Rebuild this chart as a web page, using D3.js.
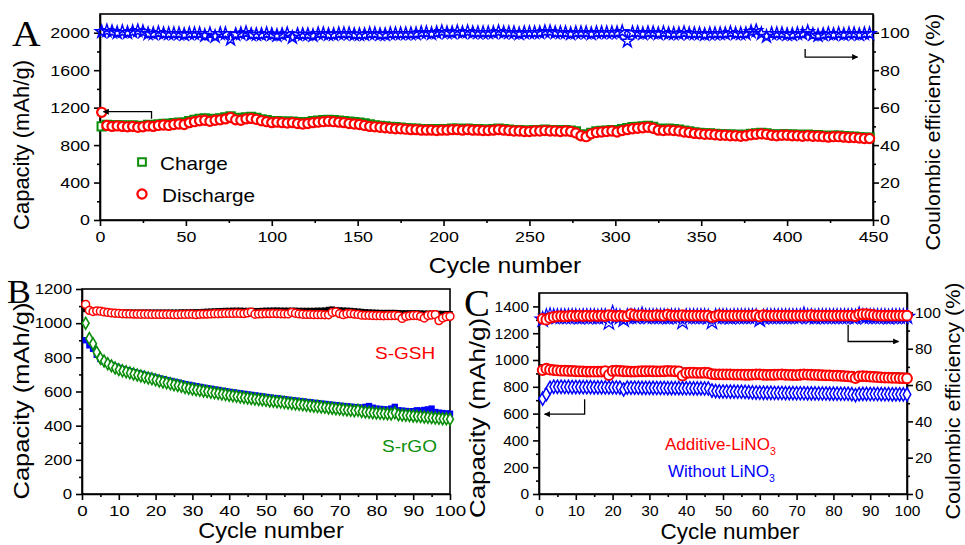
<!DOCTYPE html>
<html lang="en">
<head>
<meta charset="UTF-8" />
<title>Cycling performance</title>
<script src="https://d3js.org/d3.v7.min.js"></script>
<style>
  body { margin: 0; background: #fff; }
  svg text { font-family: "Liberation Sans", Arial, sans-serif; }
  .axis path, .axis line { stroke: #000; stroke-width: 1.6; }
  .frame { fill: none; stroke: #000; stroke-width: 1.6; }
</style>
</head>
<body>
<svg id="chart" width="965" height="545"></svg>
<script>
// ----- Panel A: 450 cycles, a marker every 3rd cycle -----
const aCycles = d3.range(1, 449, 3);
const aDischarge = [
  1150,1010,1000,1005,1000,995,1000,990,995,1005,
  1000,1010,1015,1010,1020,1025,1020,1040,1050,1060,
  1065,1055,1065,1070,1080,1095,1070,1065,1080,1085,
  1075,1060,1050,1040,1045,1040,1035,1040,1030,1025,
  1030,1040,1045,1050,1055,1050,1045,1040,1030,1025,
  1020,1010,1000,995,990,985,980,975,975,970,
  965,965,960,960,960,955,960,960,965,965,
  960,965,960,960,955,955,960,965,960,955,
  950,950,945,945,950,950,955,950,950,945,
  950,945,930,900,890,920,935,940,945,950,
  940,955,965,975,980,985,990,980,960,955,
  960,955,950,940,935,925,920,915,915,910,
  905,905,900,900,895,900,910,915,920,915,
  905,900,905,905,900,900,895,900,895,895,
  890,885,890,890,885,880,880,875,870,870];
const aCharge = [
  1000,1015,1010,1010,1010,1005,1010,1000,1005,1015,
  1010,1020,1025,1025,1035,1040,1040,1055,1070,1080,
  1085,1075,1080,1085,1095,1105,1090,1085,1095,1100,
  1090,1075,1065,1055,1055,1050,1050,1050,1045,1040,
  1045,1055,1060,1065,1070,1065,1060,1055,1050,1045,
  1040,1030,1020,1010,1005,1000,995,990,985,980,
  975,975,970,970,970,965,970,970,975,975,
  970,975,970,970,965,965,970,975,970,965,
  960,960,955,955,960,960,965,960,960,955,
  960,955,945,915,905,930,945,950,955,960,
  955,970,980,990,995,1000,1005,995,975,970,
  975,970,965,955,945,935,930,925,925,920,
  915,915,910,910,905,910,920,925,930,925,
  915,910,915,915,910,910,905,910,905,905,
  900,895,900,900,895,890,890,885,880,880];
const aEfficiency = [
  100.5,101,100.5,100,100.5,100,100.5,101,100.5,99.5,
  99.5,100,99.5,99.5,99.5,99.5,99,99.5,99.5,99.5,
  98.5,99.5,98,99.5,99.5,96.5,99,99.5,100,99,
  99,99,99.5,99,98.5,99,99.5,97.5,99,99,
  99,98.5,99.5,99.5,99,99,99.5,99.5,99.5,99,
  99,99,99.5,99.5,99,99,99.5,99.5,99.5,99.5,
  99.5,99.5,100,100,99.5,100,100.5,100,100,100.5,
  100,100.5,100,100,100,100,100,100.5,100,100,
  100,99.5,100,100,100,100,100.5,100.5,100,100,
  100,99.5,100,100,100,99.5,100,100,100,100,
  100,100.5,95.5,100,100,99.5,100,100,99.5,100,
  99.5,99.5,99.5,100,99.5,99.5,99.5,99,99.5,99.5,
  99.5,99.5,100,99.5,99.5,99.5,100.5,101,99.5,98,
  99.5,99.5,99.5,99,99,99.5,99.5,100.5,99,98.5,
  99,99.5,99,99.5,99,99.5,99.5,99,99.5,99.5];

// ----- Panel B: S-GSH vs S-rGO, 100 cycles -----
const bCycles = d3.range(1, 101);
const bGshDischarge = [
  1110,1075,1068,1072,1070,1066,1063,1060,1058,1057,
  1055,1054,1054,1053,1053,1052,1052,1052,1051,1051,
  1051,1051,1051,1051,1050,1050,1051,1051,1052,1052,
  1050,1052,1053,1053,1054,1055,1055,1056,1057,1057,
  1057,1058,1057,1056,1060,1064,1052,1054,1055,1056,
  1056,1057,1056,1055,1054,1054,1063,1058,1054,1052,
  1051,1051,1050,1050,1050,1049,1049,1063,1066,1056,
  1050,1055,1056,1053,1051,1047,1046,1046,1045,1044,
  1044,1043,1044,1044,1045,1043,1028,1040,1043,1045,
  1045,1040,1030,1045,1048,1050,1015,1030,1038,1040];
const bGshCharge = [
  1080,1072,1070,1070,1069,1068,1067,1066,1066,1065,
  1065,1065,1064,1064,1064,1064,1064,1064,1064,1064,
  1064,1064,1064,1064,1064,1064,1065,1065,1065,1066,
  1066,1067,1068,1069,1070,1071,1072,1073,1074,1074,
  1075,1075,1075,1074,1074,1074,1073,1073,1074,1075,
  1075,1076,1076,1075,1075,1075,1075,1075,1074,1074,
  1074,1074,1074,1075,1075,1076,1080,1082,1079,1077,
  1076,1075,1074,1072,1070,1068,1066,1065,1064,1063,
  1062,1062,1062,1062,1062,1061,1060,1060,1060,1060,
  1060,1059,1058,1058,1058,1057,1057,1056,1056,1055];
const bRgoDischarge = [
  1000,910,880,830,795,778,762,750,738,728,
  721,715,709,703,697,691,685,679,674,668,
  662,656,651,645,640,635,630,624,619,614,
  610,607,603,600,596,592,589,585,582,578,
  575,572,568,565,562,559,556,553,551,548,
  545,543,540,538,535,532,530,527,525,522,
  519,517,514,512,509,507,504,502,499,497,
  494,492,490,487,490,483,480,478,476,474,
  472,471,469,468,475,464,462,461,459,457,
  455,453,451,449,447,445,443,441,440,438];
const bRgoCharge = [
  900,870,850,815,790,776,765,755,746,738,
  731,725,719,713,708,703,697,692,687,682,
  677,672,667,662,657,653,648,643,639,635,
  631,627,623,619,616,612,609,605,602,598,
  595,592,589,586,583,580,577,574,571,568,
  565,562,560,557,555,552,549,547,544,542,
  539,537,534,532,529,527,524,522,520,517,
  515,513,511,509,507,505,510,515,505,500,
  498,496,494,500,510,490,488,486,484,485,
  490,488,492,495,500,480,476,474,472,470];

// ----- Panel C: with / without LiNO3, 100 cycles -----
const cCycles = d3.range(1, 101);
const cAddEfficiency = [
  96.5,96,97,97.5,97.8,98,97.8,98,98.2,98,
  98.3,98,98.2,98,98.2,98,98.3,98,98.5,98.2,
  98,98.2,98,98,99,98.5,98.2,98.5,98.3,98.2,
  98.2,98.5,98.3,98.2,98.8,98.3,98.2,98.2,98.5,98.2,
  98.3,98.2,98.2,98.3,98.2,98.2,97.5,98,98.5,98.3,
  98.2,98.3,98.2,98.2,98.3,98.2,98.2,98.3,98.5,97.8,
  98.5,98.3,98.2,98.3,98.2,98.3,98.2,98.2,98.3,98.2,
  98.3,98.2,98.2,98.5,98.2,98.3,98.2,98.2,98.3,98.2,
  98.2,98.3,98.2,98.2,98.3,98,98.8,99,99,98.8,
  98.5,98.3,98.3,98.2,98.3,98.2,98.2,98.3,98.2,98.2];
const cWoEfficiency = [
  96,97.6,98.1,97.6,97.6,97.6,97.6,97.6,97.6,97.6,
  97.4,97.6,97.6,97.6,97.6,97.4,97.6,97.6,94.5,99.5,
  97.6,97.4,96,97.6,97.6,97.6,97.6,98.6,97.6,97.6,
  97.6,97.6,97.6,97.6,97.4,97.6,97.6,97.6,94.8,97.6,
  97.6,97.6,97.6,97.6,97.6,97.4,94.8,97.6,97.6,97.6,
  97.6,97.4,97.6,97.6,97.6,97.6,97.6,97.6,97.6,96,
  97.4,97.6,97.6,97.6,97.6,97.6,97.6,97.6,97.6,97.6,
  97.6,98.6,97.6,97.6,97.4,97.6,97.6,97.6,97.6,97.6,
  97.6,97.6,97.6,97.6,97.6,97.4,98.6,97.6,97.6,97.6,
  97.6,97.6,97.6,97.6,97.4,97.6,97.6,97.6,97.6,97.6];
const cAddDischarge = [
  925,935,928,925,922,920,920,918,918,916,
  915,915,914,914,913,913,914,916,888,918,
  920,918,916,915,914,914,915,916,916,917,
  916,915,915,916,918,917,916,915,884,903,
  905,905,904,904,905,903,895,893,893,892,
  892,892,891,891,891,890,890,891,892,893,
  890,889,889,890,891,892,890,889,888,887,
  890,892,891,890,889,888,887,886,885,884,
  883,882,880,878,875,865,878,880,878,876,
  874,872,870,869,868,867,866,865,864,863];
const cAddCharge = [
  945,945,942,940,938,936,935,934,933,932,
  932,931,931,930,930,930,930,930,925,932,
  933,932,931,930,930,930,930,931,931,931,
  931,930,930,930,931,931,930,930,920,918,
  918,918,917,917,917,916,910,908,907,906,
  906,906,905,905,905,904,904,905,906,906,
  905,904,904,904,905,905,904,903,902,902,
  903,904,904,903,902,901,900,900,899,898,
  897,896,895,894,892,885,892,893,892,890,
  889,888,887,886,885,884,883,882,881,880];
const cWoDischarge = [
  712,745,792,800,800,800,799,799,798,798,
  798,797,797,797,796,796,796,795,795,795,
  795,794,780,794,793,793,793,792,792,792,
  792,791,791,791,790,790,790,790,789,789,
  789,788,788,788,787,787,772,768,766,765,
  765,764,764,763,763,762,760,758,757,756,
  755,755,755,754,754,754,753,753,753,752,
  752,752,751,751,751,750,750,750,749,749,
  749,748,748,748,745,738,745,747,747,746,
  746,746,745,745,745,744,744,744,743,743];
const cWoCharge = [
  700,780,815,822,822,822,821,821,820,820,
  820,819,819,819,818,818,818,817,817,817,
  817,816,810,816,815,815,815,814,814,814,
  814,813,813,813,812,812,812,812,811,811,
  811,810,810,810,809,809,800,790,788,787,
  787,786,786,785,785,784,782,780,779,778,
  777,777,777,776,776,776,775,775,775,774,
  774,774,773,773,773,772,772,772,771,771,
  771,770,770,770,767,760,767,769,769,768,
  768,768,767,767,767,766,766,766,765,765];

const RED = '#ff0000', BLUE = '#0000ff', GREEN = '#0a8f0a';

const svg = d3.select('#chart');

// arrow head
svg.append('defs').append('marker')
  .attr('id', 'head').attr('viewBox', '0 0 10 10')
  .attr('refX', 9).attr('refY', 5)
  .attr('markerWidth', 8).attr('markerHeight', 6)
  .attr('markerUnits', 'userSpaceOnUse')
  .attr('orient', 'auto')
  .append('path').attr('d', 'M0,0 L10,5 L0,10 Z').attr('fill', '#000');

// stretch text horizontally (the figure is a bit wider than tall)
function stretch(sel, k) {
  sel.each(function () {
    const w = this.getComputedTextLength();
    d3.select(this).attr('textLength', w * k).attr('lengthAdjust', 'spacingAndGlyphs');
  });
}

function axis(make, scale, pos, major, minor, pad, fs, k) {
  const g = svg.append('g').attr('class', 'axis').attr('transform', pos)
    .call(make(scale).tickValues(major).tickFormat(d3.format('d'))
      .tickSize(6).tickSizeOuter(0).tickPadding(pad));
  g.attr('font-size', fs).attr('font-family', '"Liberation Sans", Arial, sans-serif');
  stretch(g.selectAll('text'), k);
  svg.append('g').attr('class', 'axis').attr('transform', pos)
    .call(make(scale).tickValues(minor).tickSize(3).tickFormat(''))
    .select('.domain').remove();
}

function marks(x, y, cycles, vals, type, size, o) {
  svg.append('g').selectAll('path').data(vals).join('path')
    .attr('transform', (d, i) => `translate(${x(cycles[i])},${y(d)})`)
    .attr('d', d3.symbol().type(type).size(size))
    .attr('fill', o.fill || 'none')
    .attr('stroke', o.stroke || 'none')
    .attr('stroke-width', o.sw || 1);
}

function trace(x, y, cycles, vals, color, sw) {
  svg.append('path').datum(vals)
    .attr('d', d3.line().x((d, i) => x(cycles[i])).y(d => y(d)))
    .attr('fill', 'none').attr('stroke', color).attr('stroke-width', sw);
}

function arrow(x, y, pts) {
  svg.append('path')
    .attr('d', d3.line().x(p => x(p[0])).y(p => y(p[1]))(pts))
    .attr('fill', 'none').attr('stroke', '#000').attr('stroke-width', 1.3)
    .attr('marker-end', 'url(#head)');
}

function label(txt, x, y, fs, k, opts = {}) {
  const t = svg.append('text')
    .attr('transform', `translate(${x},${y}) scale(${k},1)` + (opts.rot ? ' rotate(-90)' : ''))
    .attr('font-size', fs)
    .attr('text-anchor', opts.anchor || 'start')
    .style('fill', opts.color || '#000')
    .text(txt);
  if (opts.len) t.attr('textLength', opts.len).attr('lengthAdjust', 'spacingAndGlyphs');
  if (opts.serif) t.style('font-family', '"Liberation Serif", "Times New Roman", serif');
  return t;
}

function subLabel(main, sub, x, y, fs, color) {
  const t = svg.append('text').attr('x', x).attr('y', y)
    .attr('font-size', fs).style('fill', color);
  t.append('tspan').text(main);
  t.append('tspan').attr('font-size', fs * 0.62).attr('dy', 5).text(sub);
}

// ================= Panel A =================
const xA = d3.scaleLinear().domain([0, 450]).range([100, 873]);
const yA = d3.scaleLinear().domain([0, 2200]).range([220, 14]);
const yAr = d3.scaleLinear().domain([0, 110]).range([220, 14]);

svg.append('rect').attr('class', 'frame').attr('x', 100).attr('y', 14).attr('width', 773).attr('height', 206);
axis(d3.axisBottom, xA, 'translate(0,220)', d3.range(0, 451, 50), d3.range(25, 450, 50), 5, 15.5, 1.15);
axis(d3.axisLeft, yA, 'translate(100,0)', d3.range(0, 2001, 400), d3.range(200, 2001, 400), 4, 15.5, 1.15);
axis(d3.axisRight, yAr, 'translate(873,0)', d3.range(0, 101, 20), d3.range(10, 101, 20), 1, 15.5, 1.15);

marks(xA, yA, aCycles, aCharge, d3.symbolSquare, 70, { fill: '#fff', stroke: GREEN, sw: 2 });
marks(xA, yA, aCycles, aDischarge, d3.symbolCircle, 66, { fill: '#fff', stroke: RED, sw: 2.2 });
marks(xA, yAr, aCycles, aEfficiency, d3.symbolStar, 48, { stroke: BLUE, sw: 1.5 });

arrow(xA, yA, [[30, 1080], [30, 1157], [2, 1157]]);
arrow(xA, yAr, [[410.5, 91.3], [410.5, 87], [441, 87]]);

// legend
svg.append('path').attr('transform', 'translate(142,162)')
  .attr('d', d3.symbol().type(d3.symbolSquare).size(60))
  .attr('fill', '#fff').attr('stroke', GREEN).attr('stroke-width', 2);
svg.append('path').attr('transform', 'translate(142,194)')
  .attr('d', d3.symbol().type(d3.symbolCircle).size(66))
  .attr('fill', '#fff').attr('stroke', RED).attr('stroke-width', 2.2);
label('Charge', 160, 170, 18, 1.15);
label('Discharge', 162, 202, 18, 1.15);

label('A', 12, 46, 36, 1.1, { serif: true });
label('Cycle number', 505, 273, 21.5, 1.15, { anchor: 'middle' });
label('Capacity (mAh/g)', 29, 145, 20, 1.1, { rot: true, anchor: 'middle', len: 170 });
label('Coulombic efficiency (%)', 940, 132, 20, 1.05, { rot: true, anchor: 'middle', len: 237 });

// ================= Panel B =================
const xB = d3.scaleLinear().domain([0, 100]).range([82, 450]);
const yB = d3.scaleLinear().domain([0, 1200]).range([494, 289]);

svg.append('rect').attr('class', 'frame').attr('x', 82).attr('y', 289).attr('width', 368).attr('height', 205);
axis(d3.axisBottom, xB, 'translate(0,494)', d3.range(0, 101, 10), d3.range(5, 100, 10), 5, 15, 1.25);
axis(d3.axisLeft, yB, 'translate(82,0)', d3.range(0, 1201, 200), d3.range(100, 1200, 200), 4, 15, 1.12);

marks(xB, yB, bCycles, bGshCharge, d3.symbolSquare, 30, { fill: '#000' });
marks(xB, yB, bCycles, bGshDischarge, d3.symbolCircle, 48, { fill: '#fff', stroke: RED, sw: 1.5 });
marks(xB, yB, bCycles, bRgoCharge, d3.symbolSquare, 40, { fill: BLUE });
marks(xB, yB, bCycles, bRgoDischarge, d3.symbolDiamond, 40, { fill: '#fff', stroke: GREEN, sw: 1.6 });

label('S-GSH', 375, 359, 17, 1.12, { color: RED });
label('S-rGO', 382, 452, 17, 1.12, { color: GREEN });
label('B', 7, 303, 34, 1.05, { serif: true });
label('Cycle number', 271, 538, 22.5, 1.05, { anchor: 'middle' });
label('Capacity (mAh/g)', 29, 401, 20, 1.1, { rot: true, anchor: 'middle', len: 197 });

// ================= Panel C =================
const xC = d3.scaleLinear().domain([0, 100]).range([539, 907]);
const yC = d3.scaleLinear().domain([0, 1500]).range([494, 293]);
const yCr = d3.scaleLinear().domain([0, 110.7]).range([494, 293]);

svg.append('rect').attr('class', 'frame').attr('x', 539).attr('y', 293).attr('width', 368).attr('height', 201);
axis(d3.axisBottom, xC, 'translate(0,494)', d3.range(0, 101, 10), d3.range(5, 100, 10), 5, 15.5, 1.0);
axis(d3.axisLeft, yC, 'translate(539,0)', d3.range(0, 1401, 200), d3.range(100, 1400, 200), 4, 15.5, 1.0);
axis(d3.axisRight, yCr, 'translate(907,0)', d3.range(0, 101, 20), d3.range(10, 101, 20), 2, 15.5, 1.0);

marks(xC, yCr, cCycles, cWoEfficiency, d3.symbolStar, 72, { stroke: BLUE, sw: 1.2 });
marks(xC, yCr, cCycles, cAddEfficiency, d3.symbolCircle, 75, { fill: '#fff', stroke: RED, sw: 2 });
marks(xC, yC, cCycles, cAddCharge, d3.symbolSquare, 40, { fill: '#000' });
marks(xC, yC, cCycles, cAddDischarge, d3.symbolCircle, 75, { fill: '#fff', stroke: RED, sw: 2 });
trace(xC, yC, cCycles, cWoCharge, BLUE, 1);
marks(xC, yC, cCycles, cWoCharge, d3.symbolStar, 10, { fill: BLUE });
marks(xC, yC, cCycles, cWoDischarge, d3.symbolDiamond, 50, { fill: '#fff', stroke: BLUE, sw: 1.5 });

arrow(xC, yC, [[12.4, 708], [12.4, 596], [1.5, 596]]);
arrow(xC, yCr, [[84, 93.2], [84, 84], [97.7, 84]]);

subLabel('Additive-LiNO', '3', 665, 450, 17, RED);
subLabel('Without LiNO', '3', 668, 477, 17, BLUE);
label('C', 464, 316, 37, 1.05, { serif: true });
label('Cycle number', 730, 539, 22.5, 1.0, { anchor: 'middle' });
label('Capacity (mAh/g)', 485, 418, 20, 1.1, { rot: true, anchor: 'middle', len: 200 });
label('Coulombic efficiency (%)', 960, 401, 20, 1.05, { rot: true, anchor: 'middle', len: 237 });
</script>
</body>
</html>
